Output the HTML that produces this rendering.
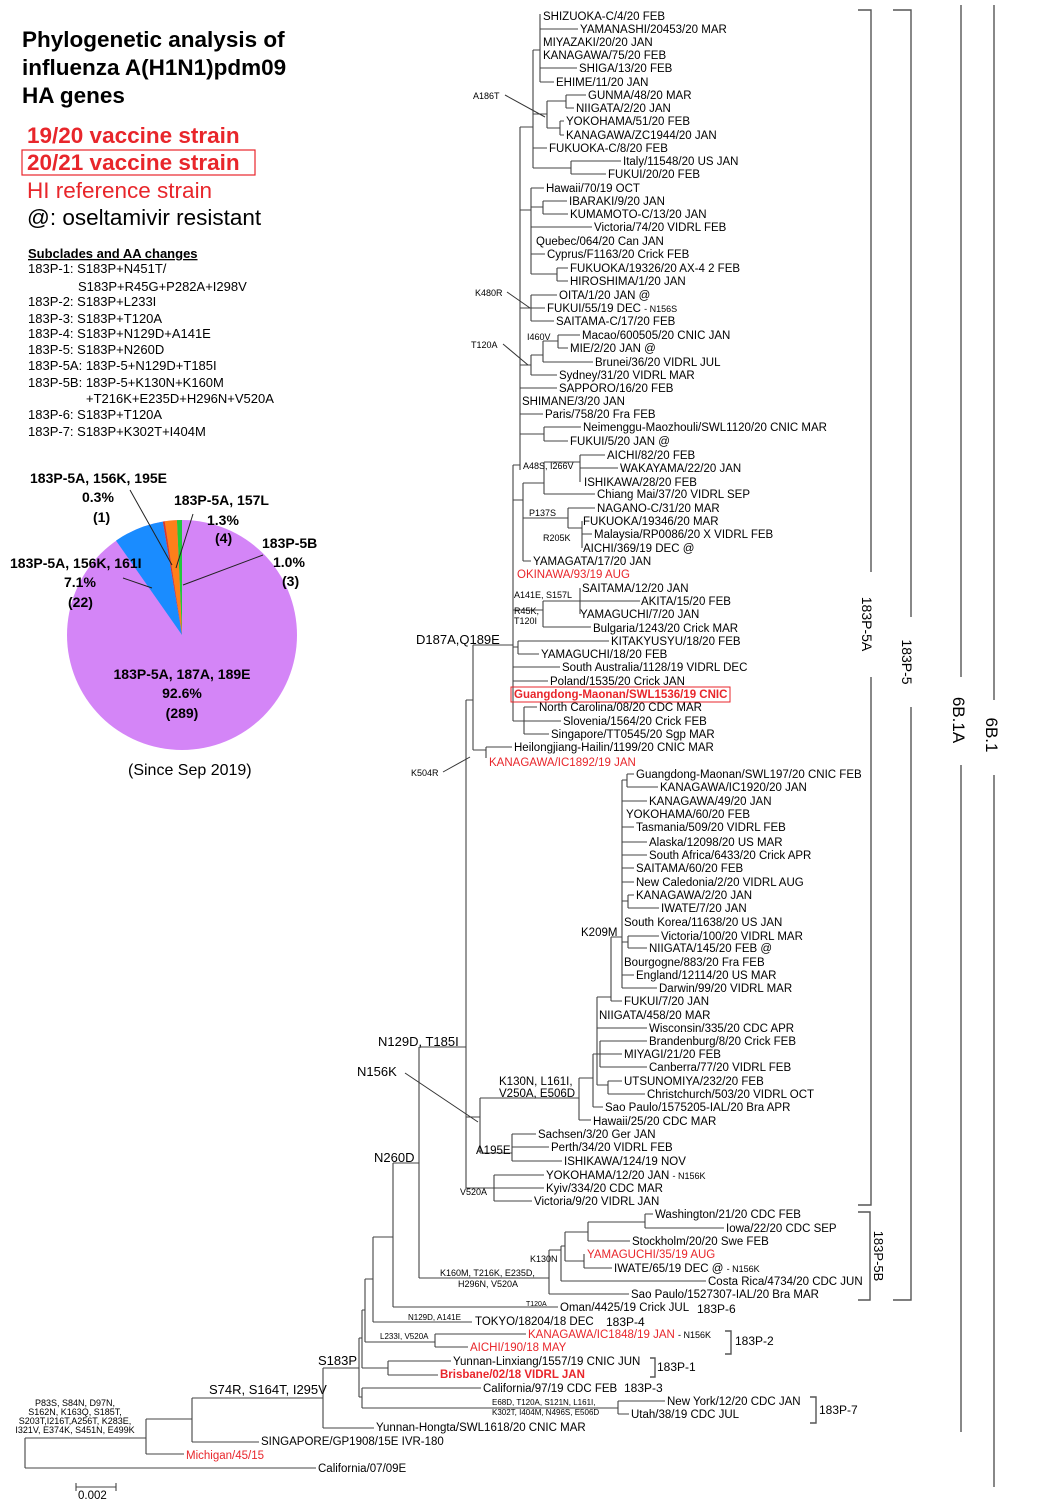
<!DOCTYPE html>
<html><head><meta charset="utf-8"><style>
body{margin:0;background:#fff}
svg{display:block}
text{font-family:"Liberation Sans",Arial,sans-serif;font-size:11.5px;fill:#000}
.r{fill:#e8262b}
.b{font-weight:bold}
.s{font-size:9px}
.m{font-size:13px}
.t{font-size:22.5px;font-weight:bold}
.l{font-size:13px}
.p{font-size:14px;font-weight:bold}
</style></head><body>
<svg width="1040" height="1502" viewBox="0 0 1040 1502" xmlns="http://www.w3.org/2000/svg">
<!-- legend -->
<text class="t" x="22" y="47">Phylogenetic analysis of</text>
<text class="t" x="22" y="75">influenza A(H1N1)pdm09</text>
<text class="t" x="22" y="103">HA genes</text>
<text x="27" y="143" style="font-size:22.5px;font-weight:bold;fill:#e8262b">19/20 vaccine strain</text>
<rect x="22" y="150" width="233" height="25" fill="none" stroke="#e8262b" stroke-width="1.2"/>
<text x="27" y="170" style="font-size:22.5px;font-weight:bold;fill:#e8262b">20/21 vaccine strain</text>
<text x="27" y="198" style="font-size:22.5px;fill:#e8262b">HI reference strain</text>
<text x="27" y="225" style="font-size:22.5px">@: oseltamivir resistant</text>
<text x="28" y="258" style="font-size:13px;font-weight:bold;text-decoration:underline">Subclades and AA changes</text>
<text class="l" x="28" y="273">183P-1: S183P+N451T/</text>
<text class="l" x="78" y="291">S183P+R45G+P282A+I298V</text>
<text class="l" x="28" y="306">183P-2: S183P+L233I</text>
<text class="l" x="28" y="323">183P-3: S183P+T120A</text>
<text class="l" x="28" y="338">183P-4: S183P+N129D+A141E</text>
<text class="l" x="28" y="354">183P-5: S183P+N260D</text>
<text class="l" x="28" y="370">183P-5A: 183P-5+N129D+T185I</text>
<text class="l" x="28" y="387">183P-5B: 183P-5+K130N+K160M</text>
<text class="l" x="86" y="403">+T216K+E235D+H296N+V520A</text>
<text class="l" x="28" y="419">183P-6: S183P+T120A</text>
<text class="l" x="28" y="436">183P-7: S183P+K302T+I404M</text>
<!-- pie -->
<circle cx="182" cy="635" r="115" fill="#d485f7"/>
<path d="M182 635 L182 520 A115 115 0 0 0 176.9 520.1 Z" fill="#22c83c"/>
<path d="M182 635 L176.9 520.1 A115 115 0 0 0 164.7 521.3 Z" fill="#ff7f1a"/>
<path d="M182 635 L164.7 521.3 A115 115 0 0 0 162.8 521.6 Z" fill="#d93a2a"/>
<path d="M182 635 L162.8 521.6 A115 115 0 0 0 116 540.6 Z" fill="#1a8cff"/>
<g stroke="#222" stroke-width="1" fill="none">
<path d="M130 490L172 565M193 514L176 568M263 555L183 585M123 578L152 588"/>
</g>
<text class="p" x="30" y="483">183P-5A, 156K, 195E</text>
<text class="p" x="82" y="502">0.3%</text>
<text class="p" x="93" y="522">(1)</text>
<text class="p" x="174" y="505">183P-5A, 157L</text>
<text class="p" x="207" y="525">1.3%</text>
<text class="p" x="215" y="543">(4)</text>
<text class="p" x="262" y="548">183P-5B</text>
<text class="p" x="273" y="567">1.0%</text>
<text class="p" x="282" y="586">(3)</text>
<text class="p" x="10" y="568">183P-5A, 156K, 161I</text>
<text class="p" x="64" y="587">7.1%</text>
<text class="p" x="68" y="607">(22)</text>
<text class="p" x="182" y="679" text-anchor="middle">183P-5A, 187A, 189E</text>
<text class="p" x="182" y="698" text-anchor="middle">92.6%</text>
<text class="p" x="182" y="718" text-anchor="middle">(289)</text>
<text x="128" y="775" style="font-size:16px">(Since Sep 2019)</text>

<!-- tree -->
<path fill="none" stroke="#444" stroke-width="1.1" d="
M540 14V82 M540 29H578 M540 68H577 M540 82H554
M547 101V128 M566 95V108 M566 95H586 M566 108H574 M547 101H566 M560 121V135 M560 121H564 M560 135H564 M547 128H560
M533 50V168 M533 50H540 M533 114H547 M533 148H547 M571 161V174 M571 161H621 M571 174H606 M533 168H571
M520 127V470 M520 127H533
M531 188V274 M531 188H544 M543 201V214 M543 201H567 M543 214H568 M531 207H543 M531 227H592 M531 254H545 M557 268V281 M557 268H568 M557 281H568 M531 274H557 M520 210H531
M531 295V321 M531 295H557 M531 308H545 M531 321H554 M520 308H531
M531 355V375 M543 341V362 M558 335V348 M558 335H580 M558 348H568 M543 341H558 M543 362H593 M531 355H543 M531 375H557 M520 365H531
M520 388H557
M513 465V721 M513 465H520
M520 414H543 M544 427V441 M544 427H581 M544 441H568 M520 434H544
M523 483V561 M523 561H531 M544 462V494 M580 455V482 M580 455H605 M580 468H618 M544 462H580 M544 494H595 M523 483H544 M568 508V528 M568 508H595 M582 521V548 M582 534H592 M568 528H582 M523 518H568 M513 500H523
M543 601V627 M580 588V614 M580 601H640 M543 601H580 M543 627H591 M513 610H543
M518 641V654 M518 641H609 M518 654H539 M513 647H518
M513 667H560 M513 681H548 M524 707V734 M524 707H537 M524 734H549 M513 721H561
M473 645V750 M473 645H513 M486 747V758 M486 747H512 M473 750H486
M466 700V1188 M466 700H473
M466 1117H480 M480 1098V1153 M480 1098H579 M579 1078V1120 M579 1120H591 M579 1078H593 M593 1054V1107 M593 1107H603 M593 1054H597
M597 997V1085 M597 997H611 M597 1028H647 M600 1041V1067 M600 1041H647 M600 1054H622 M600 1067H647 M597 1054H600 M608 1081V1094 M608 1081H622 M608 1094H645 M597 1085H608
M611 937V1001 M611 1001H622 M611 937H622
M622 780V988 M627 774V787 M627 774H634 M627 787H658 M622 780H627 M622 801H647 M622 827H634 M622 842H647 M622 855H647 M622 868H634 M622 882H634 M628 895V908 M628 895H634 M628 908H659 M622 901H628 M628 936V948 M628 936H659 M628 948H647 M622 942H628 M622 975H634 M622 988H657
M480 1153H512 M512 1134V1161 M512 1134H536 M512 1147H549 M512 1161H562
M466 1188H494 M494 1175V1201 M494 1175H544 M494 1188H544 M494 1201H532
M419 1047V1278 M419 1047H466 M393 1163V1307 M393 1163H419 M393 1307H558
M419 1278H549 M549 1250V1294 M549 1294H629 M549 1250H561 M561 1246V1281 M561 1281H706 M561 1246H565 M565 1232V1261 M565 1232H588 M588 1222V1241 M588 1241H630 M588 1222H645 M645 1214V1228 M645 1214H653 M645 1228H724 M565 1261H584 M584 1254V1268 M584 1268H612
M373 1237V1322 M373 1237H393 M373 1322H472
M365 1279V1342 M365 1279H373 M365 1342H435 M435 1334V1347 M435 1334H526 M435 1347H468
M362 1310V1368 M362 1310H365 M362 1368H388 M388 1361V1375 M388 1361H451 M388 1375H438
M359 1338V1397 M359 1338H362 M359 1397H362 M362 1388V1408 M362 1388H481 M362 1408H618 M618 1401V1414 M618 1401H665 M618 1414H629
M323 1368V1428 M323 1368H359 M323 1428H374
M192 1398V1442 M192 1398H323 M192 1442H259
M146 1419V1454 M146 1419H192 M146 1454H184
M25 1438V1468 M25 1438H146 M25 1468H316
M76 1487H116 M76 1483V1491 M116 1483V1491
"/>
<path fill="none" stroke="#333" stroke-width="1" d="M505 95L545 117 M507 292L530 308 M503 344L528 365 M443 772L470 757 M405 1073L478 1122"/>
<!-- brackets -->
<path fill="none" stroke="#555" stroke-width="1.4" d="M858 10H871V572 M871 677V1205H858 M893 10H911V617 M911 707V1300H893 M961 5V677 M961 765V1432 M994 5V700 M994 775V1487 M858 1212H870V1300H858 M725 1331H731V1354H725 M650 1358H655V1377H650 M810 1397H816V1423H810"/>
<text transform="translate(862,624) rotate(90)" text-anchor="middle" style="font-size:14px">183P-5A</text>
<text transform="translate(902,662) rotate(90)" text-anchor="middle" style="font-size:14px">183P-5</text>
<text transform="translate(953,720) rotate(90)" text-anchor="middle" style="font-size:17px">6B.1A</text>
<text transform="translate(986,735) rotate(90)" text-anchor="middle" style="font-size:17px">6B.1</text>
<text transform="translate(874,1256) rotate(90)" text-anchor="middle" style="font-size:13px">183P-5B</text>
<text x="735" y="1345" style="font-size:12px">183P-2</text>
<text x="657" y="1371" style="font-size:12px">183P-1</text>
<text x="819" y="1414" style="font-size:12px">183P-7</text>
<text x="697" y="1313" style="font-size:12px">183P-6</text>
<text x="606" y="1326" style="font-size:12px">183P-4</text>
<text x="624" y="1392" style="font-size:12px">183P-3</text>

<!-- mutation labels -->
<text class="s" x="473" y="99">A186T</text>
<text class="s" x="475" y="296">K480R</text>
<text class="s" x="471" y="348">T120A</text>
<text class="s" x="527" y="340">I460V</text>
<text class="s" x="523" y="469">A48S, I266V</text>
<text class="s" x="529" y="516">P137S</text>
<text class="s" x="543" y="541">R205K</text>
<text class="s" x="514" y="598">A141E, S157L</text>
<text class="s" x="514" y="614">R45K,</text>
<text class="s" x="514" y="624">T120I</text>
<text class="m" x="416" y="644">D187A,Q189E</text>
<text class="s" x="411" y="776">K504R</text>
<text x="581" y="936">K209M</text>
<text class="m" x="378" y="1046">N129D, T185I</text>
<text class="m" x="357" y="1076">N156K</text>
<text x="499" y="1085">K130N, L161I,</text>
<text x="499" y="1097">V250A, E506D</text>
<text x="476" y="1154">A195E</text>
<text class="s" x="460" y="1195">V520A</text>
<text class="m" x="374" y="1162">N260D</text>
<text class="s" x="530" y="1262">K130N</text>
<text class="s" x="440" y="1276">K160M, T216K, E235D,</text>
<text class="s" x="458" y="1287">H296N, V520A</text>
<text class="s" x="526" y="1306" style="font-size:7px">T120A</text>
<text class="s" x="408" y="1320" style="font-size:8px">N129D, A141E</text>
<text class="s" x="380" y="1339" style="font-size:8px">L233I, V520A</text>
<text class="s" x="492" y="1405" style="font-size:8px">E68D, T120A, S121N, L161I,</text>
<text class="s" x="492" y="1415" style="font-size:8px">K302T, I404M, N496S, E506D</text>
<text class="m" x="318" y="1365">S183P</text>
<text class="m" x="209" y="1394">S74R, S164T, I295V</text>
<text class="s" x="75" y="1406" text-anchor="middle">P83S, S84N, D97N,</text>
<text class="s" x="75" y="1415" text-anchor="middle">S162N, K163Q, S185T,</text>
<text class="s" x="75" y="1424" text-anchor="middle">S203T,I216T,A256T, K283E,</text>
<text class="s" x="75" y="1433" text-anchor="middle">I321V, E374K, S451N, E499K</text>
<text x="78" y="1499">0.002</text>

<!-- leaves -->
<text x="543" y="20">SHIZUOKA-C/4/20 FEB</text>
<text x="580" y="33">YAMANASHI/20453/20 MAR</text>
<text x="543" y="46">MIYAZAKI/20/20 JAN</text>
<text x="543" y="59">KANAGAWA/75/20 FEB</text>
<text x="579" y="72">SHIGA/13/20 FEB</text>
<text x="556" y="86">EHIME/11/20 JAN</text>
<text x="588" y="99">GUNMA/48/20 MAR</text>
<text x="576" y="112">NIIGATA/2/20 JAN</text>
<text x="566" y="125">YOKOHAMA/51/20 FEB</text>
<text x="566" y="139">KANAGAWA/ZC1944/20 JAN</text>
<text x="549" y="152">FUKUOKA-C/8/20 FEB</text>
<text x="623" y="165">Italy/11548/20 US JAN</text>
<text x="608" y="178">FUKUI/20/20 FEB</text>
<text x="546" y="192">Hawaii/70/19 OCT</text>
<text x="569" y="205">IBARAKI/9/20 JAN</text>
<text x="570" y="218">KUMAMOTO-C/13/20 JAN</text>
<text x="594" y="231">Victoria/74/20 VIDRL FEB</text>
<text x="536" y="245">Quebec/064/20 Can JAN</text>
<text x="547" y="258">Cyprus/F1163/20 Crick FEB</text>
<text x="570" y="272">FUKUOKA/19326/20 AX-4 2 FEB</text>
<text x="570" y="285">HIROSHIMA/1/20 JAN</text>
<text x="559" y="299">OITA/1/20 JAN @</text>
<text x="547" y="312">FUKUI/55/19 DEC <tspan style="font-size:9px">- N156S</tspan></text>
<text x="556" y="325">SAITAMA-C/17/20 FEB</text>
<text x="582" y="339">Macao/600505/20 CNIC JAN</text>
<text x="570" y="352">MIE/2/20 JAN @</text>
<text x="595" y="366">Brunei/36/20 VIDRL JUL</text>
<text x="559" y="379">Sydney/31/20 VIDRL MAR</text>
<text x="559" y="392">SAPPORO/16/20 FEB</text>
<text x="522" y="405">SHIMANE/3/20 JAN</text>
<text x="545" y="418">Paris/758/20 Fra FEB</text>
<text x="583" y="431">Neimenggu-Maozhouli/SWL1120/20 CNIC MAR</text>
<text x="570" y="445">FUKUI/5/20 JAN @</text>
<text x="607" y="459">AICHI/82/20 FEB</text>
<text x="620" y="472">WAKAYAMA/22/20 JAN</text>
<text x="584" y="486">ISHIKAWA/28/20 FEB</text>
<text x="597" y="498">Chiang Mai/37/20 VIDRL SEP</text>
<text x="597" y="512">NAGANO-C/31/20 MAR</text>
<text x="583" y="525">FUKUOKA/19346/20 MAR</text>
<text x="594" y="538">Malaysia/RP0086/20 X VIDRL FEB</text>
<text x="583" y="552">AICHI/369/19 DEC @</text>
<text x="533" y="565">YAMAGATA/17/20 JAN</text>
<text class="r" x="517" y="578">OKINAWA/93/19 AUG</text>
<text x="582" y="592">SAITAMA/12/20 JAN</text>
<text x="641" y="605">AKITA/15/20 FEB</text>
<text x="580" y="618">YAMAGUCHI/7/20 JAN</text>
<text x="593" y="632">Bulgaria/1243/20 Crick MAR</text>
<text x="611" y="645">KITAKYUSYU/18/20 FEB</text>
<text x="541" y="658">YAMAGUCHI/18/20 FEB</text>
<text x="562" y="671">South Australia/1128/19 VIDRL DEC</text>
<text x="550" y="685">Poland/1535/20 Crick JAN</text>
<rect x="511" y="687" width="219" height="15" fill="none" stroke="#e8262b" stroke-width="1"/>
<text class="r b" x="514" y="698">Guangdong-Maonan/SWL1536/19 CNIC</text>
<text x="539" y="711">North Carolina/08/20 CDC MAR</text>
<text x="563" y="725">Slovenia/1564/20 Crick FEB</text>
<text x="551" y="738">Singapore/TT0545/20 Sgp MAR</text>
<text x="514" y="751">Heilongjiang-Hailin/1199/20 CNIC MAR</text>
<text class="r" x="489" y="766">KANAGAWA/IC1892/19 JAN</text>
<text x="636" y="778">Guangdong-Maonan/SWL197/20 CNIC FEB</text>
<text x="660" y="791">KANAGAWA/IC1920/20 JAN</text>
<text x="649" y="805">KANAGAWA/49/20 JAN</text>
<text x="626" y="818">YOKOHAMA/60/20 FEB</text>
<text x="636" y="831">Tasmania/509/20 VIDRL FEB</text>
<text x="649" y="846">Alaska/12098/20 US MAR</text>
<text x="649" y="859">South Africa/6433/20 Crick APR</text>
<text x="636" y="872">SAITAMA/60/20 FEB</text>
<text x="636" y="886">New Caledonia/2/20 VIDRL AUG</text>
<text x="636" y="899">KANAGAWA/2/20 JAN</text>
<text x="661" y="912">IWATE/7/20 JAN</text>
<text x="624" y="926">South Korea/11638/20 US JAN</text>
<text x="661" y="940">Victoria/100/20 VIDRL MAR</text>
<text x="649" y="952">NIIGATA/145/20 FEB @</text>
<text x="624" y="966">Bourgogne/883/20 Fra FEB</text>
<text x="636" y="979">England/12114/20 US MAR</text>
<text x="659" y="992">Darwin/99/20 VIDRL MAR</text>
<text x="624" y="1005">FUKUI/7/20 JAN</text>
<text x="599" y="1019">NIIGATA/458/20 MAR</text>
<text x="649" y="1032">Wisconsin/335/20 CDC APR</text>
<text x="649" y="1045">Brandenburg/8/20 Crick FEB</text>
<text x="624" y="1058">MIYAGI/21/20 FEB</text>
<text x="649" y="1071">Canberra/77/20 VIDRL FEB</text>
<text x="624" y="1085">UTSUNOMIYA/232/20 FEB</text>
<text x="647" y="1098">Christchurch/503/20 VIDRL OCT</text>
<text x="605" y="1111">Sao Paulo/1575205-IAL/20 Bra APR</text>
<text x="593" y="1125">Hawaii/25/20 CDC MAR</text>
<text x="538" y="1138">Sachsen/3/20 Ger JAN</text>
<text x="551" y="1151">Perth/34/20 VIDRL FEB</text>
<text x="564" y="1165">ISHIKAWA/124/19 NOV</text>
<text x="546" y="1179">YOKOHAMA/12/20 JAN <tspan style="font-size:9px">- N156K</tspan></text>
<text x="546" y="1192">Kyiv/334/20 CDC MAR</text>
<text x="534" y="1205">Victoria/9/20 VIDRL JAN</text>
<text x="655" y="1218">Washington/21/20 CDC FEB</text>
<text x="726" y="1232">Iowa/22/20 CDC SEP</text>
<text x="632" y="1245">Stockholm/20/20 Swe FEB</text>
<text class="r" x="587" y="1258">YAMAGUCHI/35/19 AUG</text>
<text x="614" y="1272">IWATE/65/19 DEC @ <tspan style="font-size:9px">- N156K</tspan></text>
<text x="708" y="1285">Costa Rica/4734/20 CDC JUN</text>
<text x="631" y="1298">Sao Paulo/1527307-IAL/20 Bra MAR</text>
<text x="560" y="1311">Oman/4425/19 Crick JUL</text>
<text x="475" y="1325">TOKYO/18204/18 DEC</text>
<text class="r" x="528" y="1338">KANAGAWA/IC1848/19 JAN <tspan style="font-size:9px;fill:#000">- N156K</tspan></text>
<text class="r" x="470" y="1351">AICHI/190/18 MAY</text>
<text x="453" y="1365">Yunnan-Linxiang/1557/19 CNIC JUN</text>
<text class="r b" x="440" y="1378">Brisbane/02/18 VIDRL JAN</text>
<text x="483" y="1392">California/97/19 CDC FEB</text>
<text x="667" y="1405">New York/12/20 CDC JAN</text>
<text x="631" y="1418">Utah/38/19 CDC JUL</text>
<text x="376" y="1431">Yunnan-Hongta/SWL1618/20 CNIC MAR</text>
<text x="261" y="1445">SINGAPORE/GP1908/15E IVR-180</text>
<text class="r" x="186" y="1459">Michigan/45/15</text>
<text x="318" y="1472">California/07/09E</text>
</svg>
</body></html>
